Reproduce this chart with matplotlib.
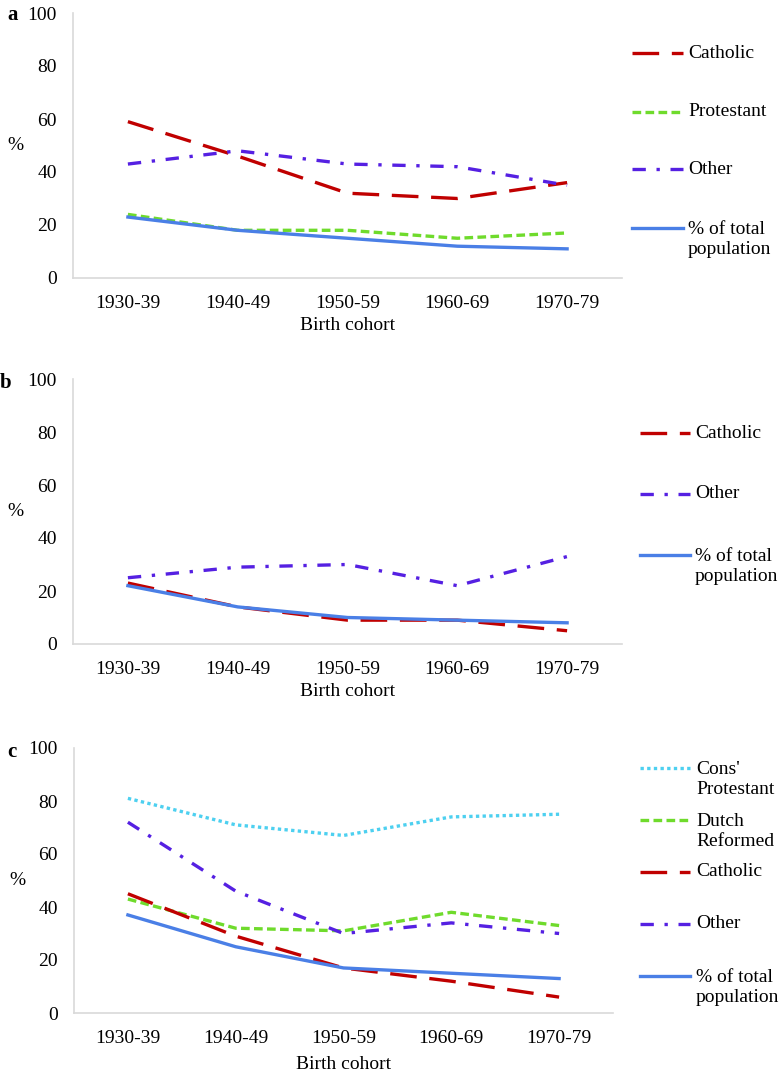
import matplotlib
matplotlib.use("Agg")
import matplotlib.pyplot as plt
from matplotlib.lines import Line2D

# data
cohorts = ["1930-39", "1940-49", "1950-59", "1960-69", "1970-79"]

# panel a
a_catholic = [59, 46, 32, 30, 36]
a_protestant = [24, 18, 18, 15, 17]
a_other = [43, 48, 43, 42, 35]
a_total = [23, 18, 15, 12, 11]

# panel b
b_catholic = [23, 14, 9, 9, 5]
b_other = [25, 29, 30, 22, 33]
b_total = [22, 14, 10, 9, 8]

# panel c
c_cons = [81, 71, 67, 74, 75]
c_dutch = [43, 32, 31, 38, 33]
c_catholic = [45, 29, 17, 12, 6]
c_other = [72, 46, 30, 34, 30]
c_total = [37, 25, 17, 15, 13]

# styles
RED = "#C00000"
GREEN = "#6FDB2C"
VIOLET = "#5520E2"
BLUE = "#4A7FE6"
CYAN = "#4DD0F0"
LW = 2.4
styles = {
    "catholic": dict(color=RED, linestyle=(0, (8, 3.8))),
    "protestant": dict(color=GREEN, linestyle=(0, (2.6, 1.3))),
    "other": dict(color=VIOLET, linestyle=(0, (4, 3.2, 1, 3.2))),
    "total": dict(color=BLUE, linestyle="-"),
    "cons": dict(color=CYAN, linestyle=(0, (1, 1))),
}

plt.rcParams["font.family"] = ["Liberation Serif", "DejaVu Serif"]
plt.rcParams["font.size"] = 14

W, H = 781, 1075
fig = plt.figure(figsize=(W / 100, H / 100), dpi=100)


def px(x, y):
    return x / W, 1 - y / H


def make_axes(left, right, top, bottom):
    l, t = px(left, top)
    r, b = px(right, bottom)
    return fig.add_axes([l, b, r - l, t - b])


def style_axes(ax, letter, letter_xy, xlabelpad=4):
    ax.set_ylim(0, 100)
    ax.set_xlim(-0.5, len(cohorts) - 0.5)
    ax.set_yticks([0, 20, 40, 60, 80, 100])
    ax.set_xticks(range(len(cohorts)))
    ax.set_xticklabels(cohorts)
    ax.tick_params(length=0, labelsize=14, colors="black")
    ax.tick_params(axis="y", pad=11.5)
    ax.tick_params(axis="x", pad=12)
    for s in ["top", "right"]:
        ax.spines[s].set_visible(False)
    for s in ["left", "bottom"]:
        ax.spines[s].set_color("#D9D9D9")
        ax.spines[s].set_linewidth(1.2)
    ax.set_xlabel("Birth cohort", fontsize=14, labelpad=xlabelpad)
    ax.set_ylabel("%", rotation=0, fontsize=14, va="center", ha="center")
    ax.yaxis.set_label_coords(-0.105, 0.5)
    fx, fy = px(*letter_xy)
    fig.text(fx, fy, letter, fontsize=15, fontweight="bold", ha="center", va="center")


def legend(entries, x0, x1, xt, line_h=23):
    for label, key, yc in entries:
        st = styles[key]
        ax0, ay = px(x0, yc)
        ax1, _ = px(x1, yc)
        fig.add_artist(Line2D([ax0, ax1], [ay, ay], transform=fig.transFigure,
                              color=st["color"], linestyle=st["linestyle"], linewidth=LW))
        n = label.count("\n") + 1
        tx, ty = px(xt, yc + (n - 1) * line_h / 2)
        fig.text(tx, ty, label, fontsize=14, ha="left", va="center", linespacing=1.2)


x = list(range(len(cohorts)))

# panel a
ax = make_axes(73, 622, 13, 278)
ax.plot(x, a_catholic, linewidth=LW, **styles["catholic"])
ax.plot(x, a_protestant, linewidth=LW, **styles["protestant"])
ax.plot(x, a_other, linewidth=LW, **styles["other"])
ax.plot(x, a_total, linewidth=LW, **styles["total"])
style_axes(ax, "a", (13, 15))
legend([("Catholic", "catholic", 53), ("Protestant", "protestant", 112),
        ("Other", "other", 169), ("% of total\npopulation", "total", 228)],
       632, 683, 688)

# panel b
ax = make_axes(73, 622, 379, 644)
ax.plot(x, b_catholic, linewidth=LW, **styles["catholic"])
ax.plot(x, b_other, linewidth=LW, **styles["other"])
ax.plot(x, b_total, linewidth=LW, **styles["total"])
style_axes(ax, "b", (6, 383))
legend([("Catholic", "catholic", 433), ("Other", "other", 494),
        ("% of total\npopulation", "total", 555)],
       640, 690, 695)

# panel c
ax = make_axes(74, 613, 748, 1013)
ax.plot(x, c_cons, linewidth=LW, **styles["cons"])
ax.plot(x, c_dutch, linewidth=LW, **styles["protestant"])
ax.plot(x, c_catholic, linewidth=LW, **styles["catholic"])
ax.plot(x, c_other, linewidth=LW, **styles["other"])
ax.plot(x, c_total, linewidth=LW, **styles["total"])
style_axes(ax, "c", (12, 752), xlabelpad=7)
legend([("Cons'\nProtestant", "cons", 768), ("Dutch\nReformed", "protestant", 820),
        ("Catholic", "catholic", 872), ("Other", "other", 924),
        ("% of total\npopulation", "total", 976)],
       640, 690, 696)

fig.savefig("out.png", dpi=100)
